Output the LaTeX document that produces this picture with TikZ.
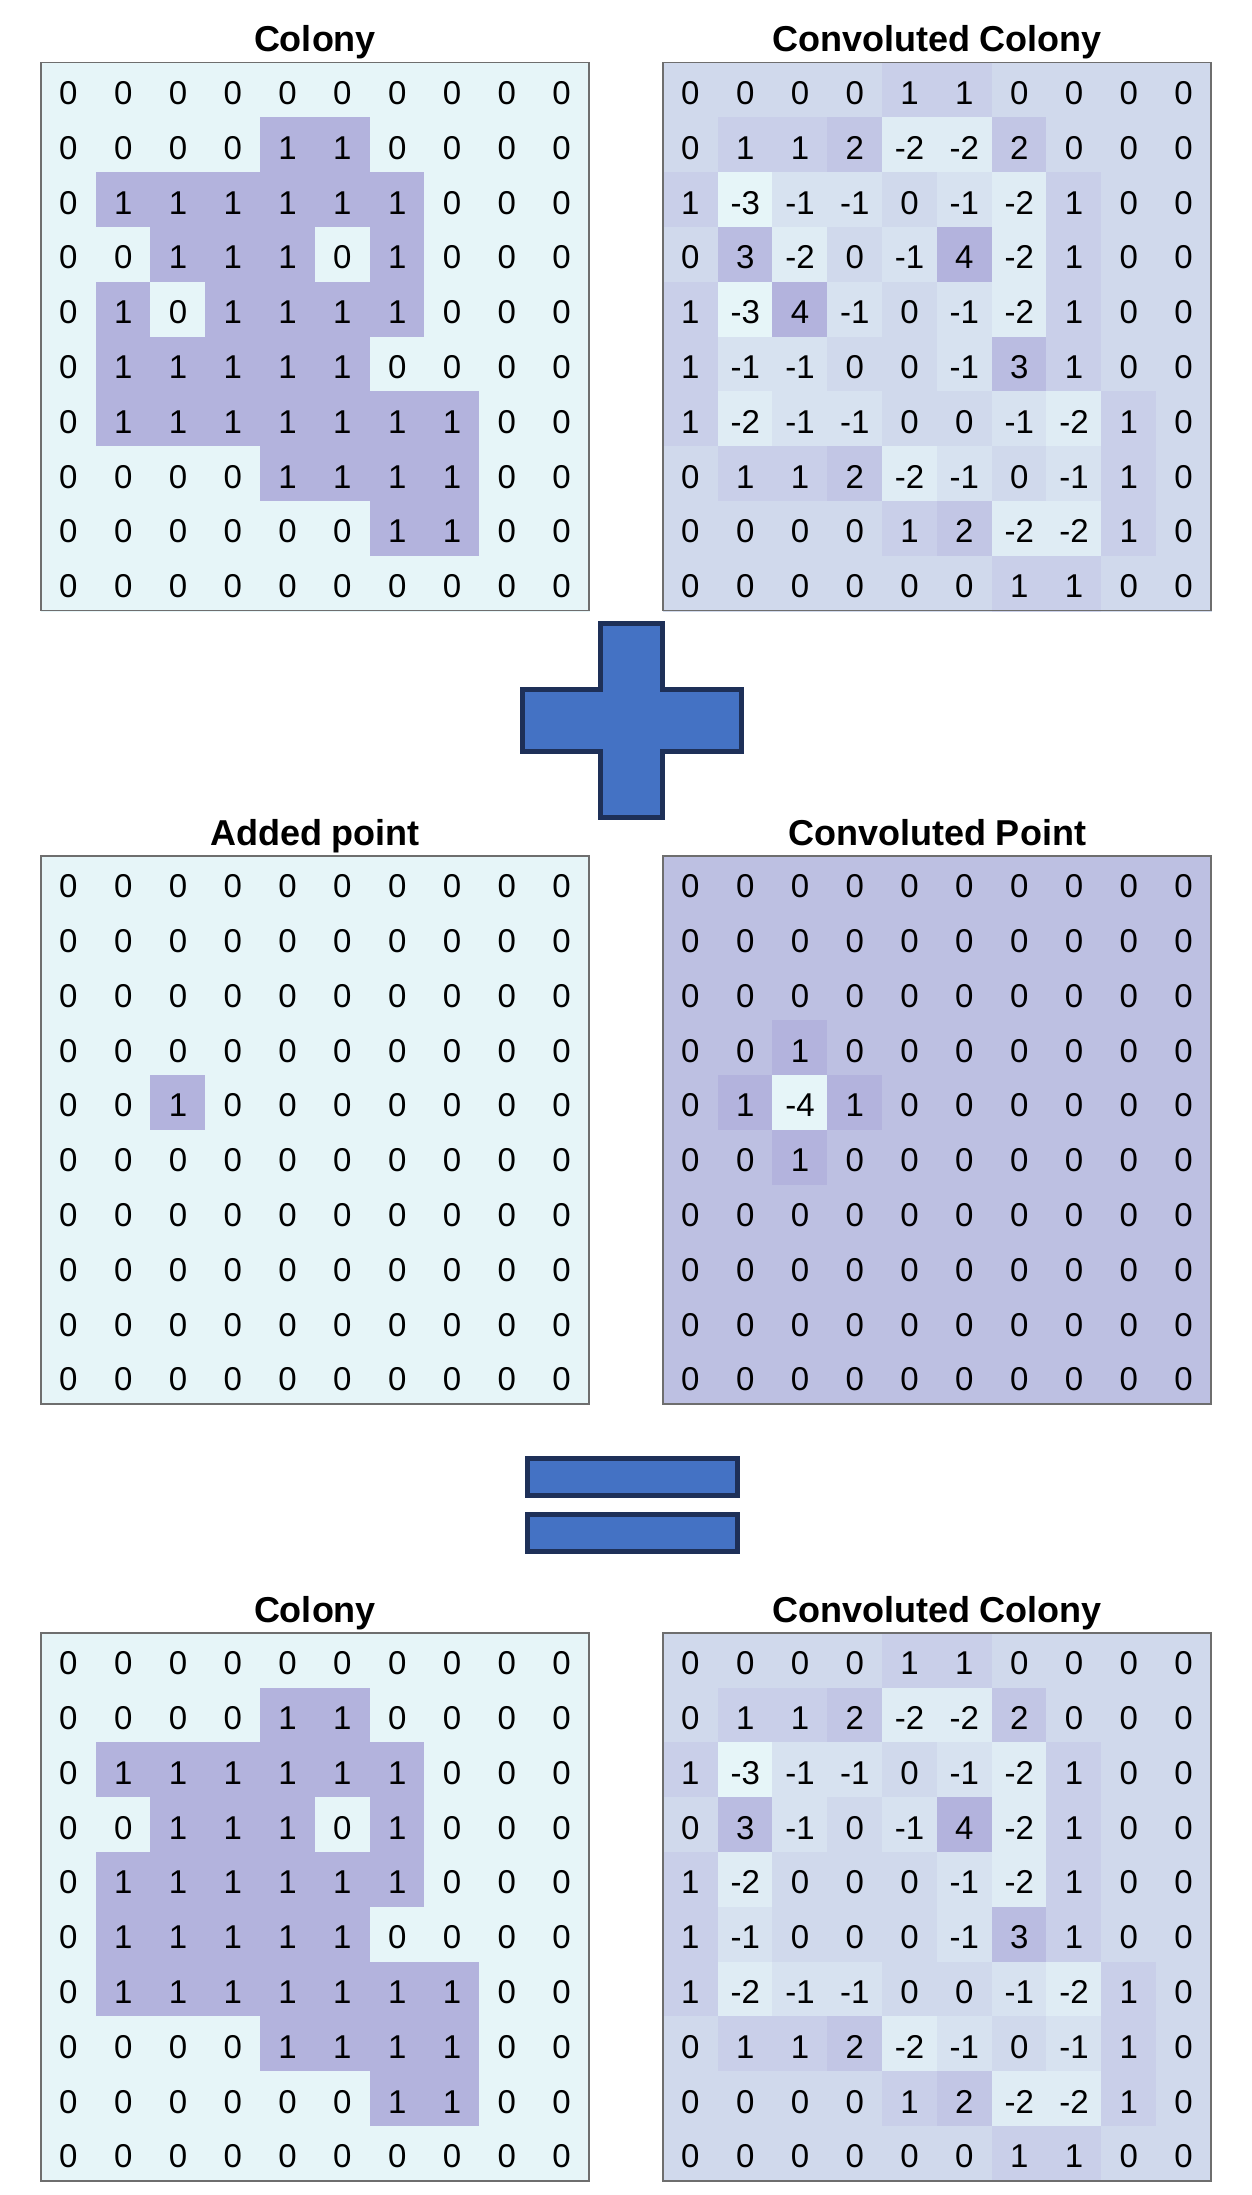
\documentclass[tikz,border=0pt]{standalone}
\usepackage{fontspec}
\setmainfont{Liberation Sans}

\definecolor{lo}{RGB}{230,245,248}
\definecolor{hi}{RGB}{179,179,221}
\definecolor{signfill}{RGB}{68,114,196}
\definecolor{signline}{RGB}{30,48,88}
\definecolor{framegray}{RGB}{110,110,110}

\newcommand{\cellsz}{54.8}
% #1 name, #2 left, #3 top, #4 min, #5 max, #6 rows
\newcommand{\matgrid}[6]{%
  \foreach \rowlist [count=\i from 0] in {#6} {
    \foreach \val [count=\j from 0] in \rowlist {
      \pgfmathsetmacro{\pct}{100*(\val-(#4))/((#5)-(#4))}
      \colorlet{cellc}{hi!\pct!lo}
      \node[cell, fill=cellc, draw=cellc] (#1-\i-\j)
        at ({#2+(\j+0.5)*\cellsz}, {#3+(\i+0.5)*\cellsz}) {\val};
    }
  }
  \draw[gridframe] (#2,#3) rectangle ++(10*\cellsz,10*\cellsz);
}

\begin{document}
\begin{tikzpicture}[x=1pt, y=-1pt,
    cell/.style={minimum size=54.8pt, inner sep=0pt, outer sep=0pt,
        text height=28.6pt, text depth=0pt,
        line width=0.3pt, font=\fontsize{33}{36}\selectfont},
    gridframe/.style={draw=framegray, line width=1.5pt},
    heading/.style={anchor=base, font=\fontsize{36}{40}\selectfont\bfseries},
    sign/.style={fill=signfill, draw=signline, line width=5pt}
    ]
    \useasboundingbox (0,0) rectangle (1251,2195);

    % top row
    \node[heading] (h-colony) at (315,51.7) {Colony};
    \node[heading] (h-convcolony) at (937,51.7) {Convoluted Colony};
    \matgrid{colony}{41}{62.7}{0}{1}{
        {0,0,0,0,0,0,0,0,0,0},{0,0,0,0,1,1,0,0,0,0},
        {0,1,1,1,1,1,1,0,0,0},{0,0,1,1,1,0,1,0,0,0},
        {0,1,0,1,1,1,1,0,0,0},{0,1,1,1,1,1,0,0,0,0},
        {0,1,1,1,1,1,1,1,0,0},{0,0,0,0,1,1,1,1,0,0},
        {0,0,0,0,0,0,1,1,0,0},{0,0,0,0,0,0,0,0,0,0}}
    \matgrid{convcolony}{663}{62.7}{-3}{4}{
        {0,0,0,0,1,1,0,0,0,0},{0,1,1,2,-2,-2,2,0,0,0},
        {1,-3,-1,-1,0,-1,-2,1,0,0},{0,3,-2,0,-1,4,-2,1,0,0},
        {1,-3,4,-1,0,-1,-2,1,0,0},{1,-1,-1,0,0,-1,3,1,0,0},
        {1,-2,-1,-1,0,0,-1,-2,1,0},{0,1,1,2,-2,-1,0,-1,1,0},
        {0,0,0,0,1,2,-2,-2,1,0},{0,0,0,0,0,0,1,1,0,0}}

    % plus
    \draw[sign] (600.5,623.5) -- (662.5,623.5) -- (662.5,689.5) -- (741.5,689.5)
        -- (741.5,751.5) -- (662.5,751.5) -- (662.5,817.5) -- (600.5,817.5)
        -- (600.5,751.5) -- (522.5,751.5) -- (522.5,689.5) -- (600.5,689.5) -- cycle;

    % middle row
    \node[heading] (h-point) at (315,845) {Added point};
    \node[heading] (h-convpoint) at (937,845) {Convoluted Point};
    \matgrid{point}{41}{856}{0}{1}{
        {0,0,0,0,0,0,0,0,0,0},{0,0,0,0,0,0,0,0,0,0},
        {0,0,0,0,0,0,0,0,0,0},{0,0,0,0,0,0,0,0,0,0},
        {0,0,1,0,0,0,0,0,0,0},{0,0,0,0,0,0,0,0,0,0},
        {0,0,0,0,0,0,0,0,0,0},{0,0,0,0,0,0,0,0,0,0},
        {0,0,0,0,0,0,0,0,0,0},{0,0,0,0,0,0,0,0,0,0}}
    \matgrid{convpoint}{663}{856}{-4}{1}{
        {0,0,0,0,0,0,0,0,0,0},{0,0,0,0,0,0,0,0,0,0},
        {0,0,0,0,0,0,0,0,0,0},{0,0,1,0,0,0,0,0,0,0},
        {0,1,-4,1,0,0,0,0,0,0},{0,0,1,0,0,0,0,0,0,0},
        {0,0,0,0,0,0,0,0,0,0},{0,0,0,0,0,0,0,0,0,0},
        {0,0,0,0,0,0,0,0,0,0},{0,0,0,0,0,0,0,0,0,0}}

    % equals
    \draw[sign] (527.5,1458.5) rectangle (737.5,1495.5);
    \draw[sign] (527.5,1514.5) rectangle (737.5,1551.5);

    % bottom row
    \node[heading] (h-newcolony) at (315,1622) {Colony};
    \node[heading] (h-newconv) at (937,1622) {Convoluted Colony};
    \matgrid{newcolony}{41}{1633}{0}{1}{
        {0,0,0,0,0,0,0,0,0,0},{0,0,0,0,1,1,0,0,0,0},
        {0,1,1,1,1,1,1,0,0,0},{0,0,1,1,1,0,1,0,0,0},
        {0,1,1,1,1,1,1,0,0,0},{0,1,1,1,1,1,0,0,0,0},
        {0,1,1,1,1,1,1,1,0,0},{0,0,0,0,1,1,1,1,0,0},
        {0,0,0,0,0,0,1,1,0,0},{0,0,0,0,0,0,0,0,0,0}}
    \matgrid{newconv}{663}{1633}{-3}{4}{
        {0,0,0,0,1,1,0,0,0,0},{0,1,1,2,-2,-2,2,0,0,0},
        {1,-3,-1,-1,0,-1,-2,1,0,0},{0,3,-1,0,-1,4,-2,1,0,0},
        {1,-2,0,0,0,-1,-2,1,0,0},{1,-1,0,0,0,-1,3,1,0,0},
        {1,-2,-1,-1,0,0,-1,-2,1,0},{0,1,1,2,-2,-1,0,-1,1,0},
        {0,0,0,0,1,2,-2,-2,1,0},{0,0,0,0,0,0,1,1,0,0}}
\end{tikzpicture}
\end{document}
